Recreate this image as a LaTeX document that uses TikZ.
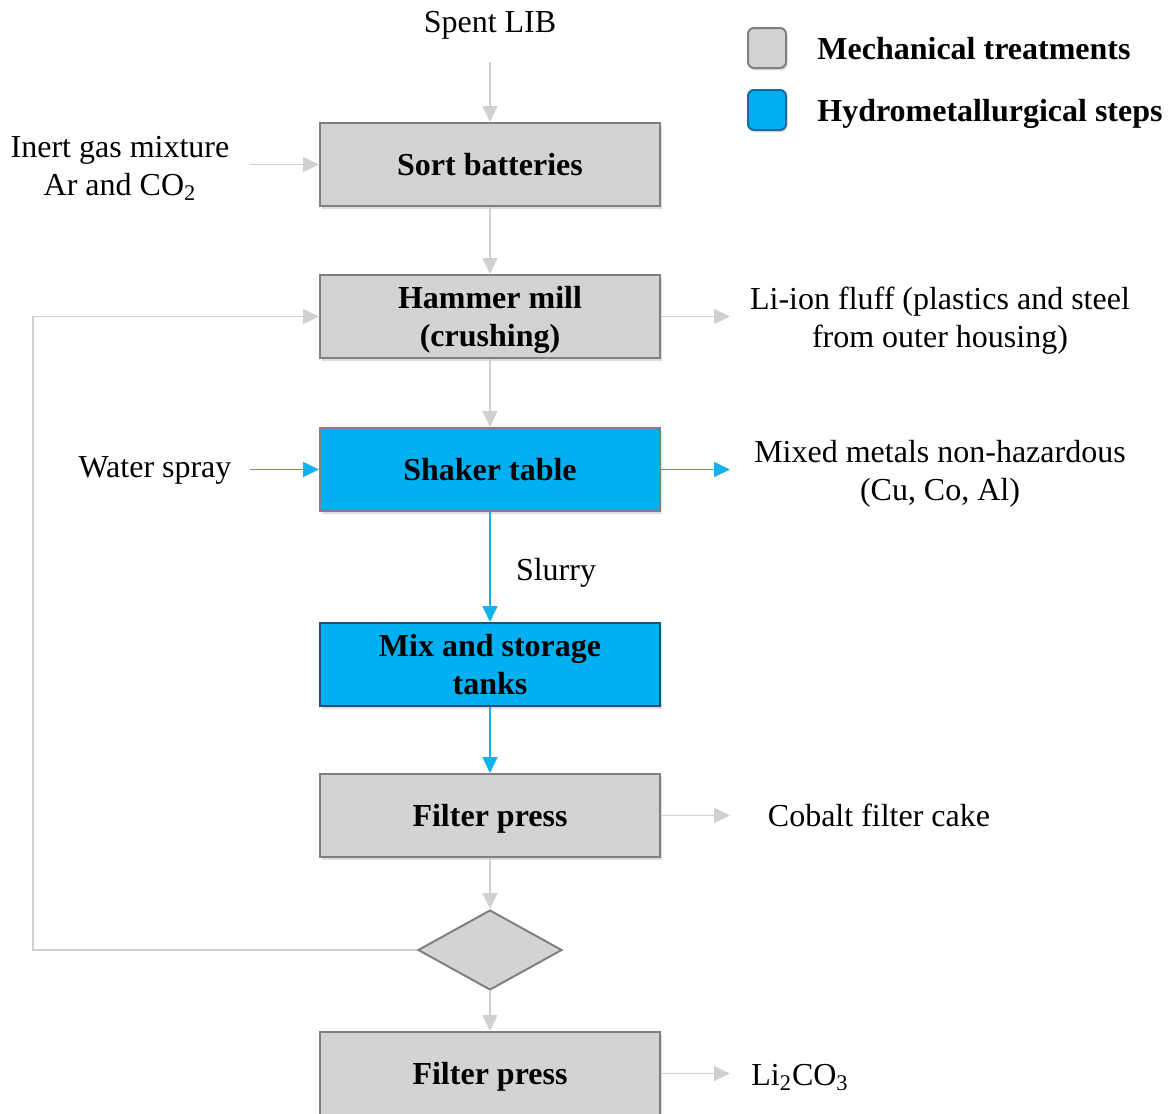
\documentclass[tikz,border=0pt]{standalone}
\usepackage{fontspec}
\setmainfont{Liberation Serif}
\usetikzlibrary{arrows.meta,shapes.geometric,shadows}
\definecolor{boxgray}{RGB}{211,211,211}
\definecolor{bordergray}{RGB}{128,128,128}
\definecolor{arrgray}{RGB}{208,208,208}
\definecolor{hydro}{RGB}{0,176,240}
\definecolor{hydroarr}{RGB}{20,178,236}
\definecolor{darkblue}{RGB}{31,78,121}
\newcommand\dn[1]{\raisebox{-1.5pt}[\height][\depth]{\begin{tabular}{@{}c@{}}#1\end{tabular}}}
\tikzset{
  base/.style={font=\fontsize{16}{19}\selectfont},
  txt/.style={base, inner sep=0pt},
  procbox/.style={font=\fontsize{16}{19}\selectfont\bfseries, draw=bordergray, line width=1pt,
     minimum width=170pt, minimum height=41.5pt, inner sep=0pt,
     drop shadow={shadow xshift=1pt, shadow yshift=-1.5pt, opacity=0.25}},
  mech/.style={procbox, fill=boxgray},
  hyd/.style={procbox, fill=hydro},
  garr/.style={draw=arrgray, line width=0.8pt, -{Triangle[length=8pt,width=7.5pt]}},
  barr/.style={draw=hydroarr, line width=0.8pt, -{Triangle[length=8pt,width=7.5pt]}},
  legsq/.style={draw, line width=1pt, rounded corners=3pt, minimum width=19pt, minimum height=20pt, inner sep=0pt,
     drop shadow={shadow xshift=0.8pt, shadow yshift=-1.2pt, opacity=0.25}},
}
\begin{document}
\begin{tikzpicture}[x=0.5pt,y=-0.5pt]
\useasboundingbox (0,0) rectangle (1168,1114);
% process boxes
\node[mech] (sort) at (490,164.5) {\dn{Sort batteries}};
\node[mech] (hammer) at (490,316.5) {\dn{Hammer mill\\(crushing)}};
\node[hyd] (shaker) at (490,469.5) {\dn{Shaker table}};
\node[hyd, draw=darkblue] (mix) at (490,664.5) {\dn{Mix and storage\\tanks}};
\node[mech] (filter1) at (490,815.5) {\dn{Filter press}};
\node[diamond, draw=bordergray, fill=boxgray, line width=1pt, minimum width=72pt, minimum height=40pt, inner sep=0pt, aspect=1.8] (dec) at (490,950) {};
\node[mech] (filter2) at (490,1073.5) {\dn{Filter press}};
% texts
\node[txt] (spent) at (490,22) {\dn{Spent LIB}};
\node[txt] (inert) at (120,166) {\dn{Inert gas mixture\\Ar and CO\textsubscript{2}}};
\node[txt] (fluff) at (940,318) {\dn{Li-ion fluff (plastics and steel\\from outer housing)}};
\node[txt] (water) at (155,467) {\dn{Water spray}};
\node[txt] (metals) at (940,471) {\dn{Mixed metals non-hazardous\\(Cu, Co, Al)}};
\node[txt] (slurry) at (556,570) {\dn{Slurry}};
\node[txt] (cobalt) at (879,816) {\dn{Cobalt filter cake}};
\node[txt] (li) at (800,1075) {\dn{Li\textsubscript{2}CO\textsubscript{3}}};
% legend
\node[legsq, fill=boxgray, draw=bordergray] (legm) at (767,48) {};
\node[legsq, fill=hydro, draw=darkblue!70!hydro] (legh) at (767,110) {};
\node[txt, anchor=west, font=\fontsize{16}{19}\selectfont\bfseries] (legmt) at (817,49) {\dn{Mechanical treatments}};
\node[txt, anchor=west, font=\fontsize{16}{19}\selectfont\bfseries] (leght) at (817,111) {\dn{Hydrometallurgical steps}};
% free ends
\coordinate (spentend) at (490,62);
\coordinate (inertend) at (250,164.5);
\coordinate (fluffend) at (730,316.5);
\coordinate (waterend) at (250,469.5);
\coordinate (metalsend) at (730,469.5);
\coordinate (cobaltend) at (730,815.5);
\coordinate (liend) at (730,1073.5);
\coordinate (loopc) at (33,950);
% connectors
\draw[garr] (spentend) -- (sort.north);
\draw[garr] (inertend) -- (sort.west);
\draw[garr] (sort.south) -- (hammer.north);
\draw[garr] (hammer.east) -- (fluffend);
\draw[garr] (hammer.south) -- (shaker.north);
\draw[barr] (waterend) -- (shaker.west);
\draw[barr] (shaker.east) -- (metalsend);
\draw[barr] (shaker.south) -- (mix.north);
\draw[barr] (mix.south) -- (filter1.north);
\draw[garr] (filter1.east) -- (cobaltend);
\draw[garr] (filter1.south) -- (dec.north);
\draw[garr] (dec.south) -- (filter2.north);
\draw[garr] (filter2.east) -- (liend);
\draw[garr] (dec.west) -- (loopc) |- (hammer.west);
\end{tikzpicture}
\end{document}
